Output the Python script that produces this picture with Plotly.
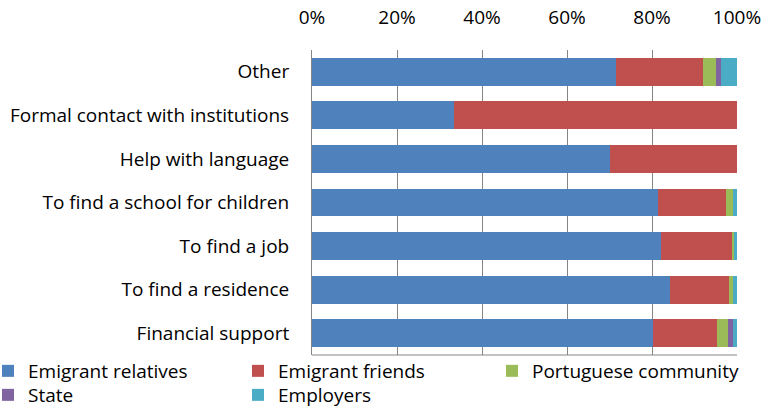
import plotly.graph_objects as go

categories = ["Other", "Formal contact with institutions", "Help with language",
              "To find a school for children", "To find a job", "To find a residence",
              "Financial support"]
series_names = ["Emigrant relatives", "Emigrant friends", "Portuguese community", "State", "Employers"]
emigrant_relatives = [71.5, 33.4, 70.1, 81.3, 82.2, 84.2, 80.3]
emigrant_friends = [20.4, 66.6, 29.9, 16.1, 16.6, 13.9, 14.9]
portuguese_community = [3.1, 0.0, 0.0, 1.7, 0.6, 1.0, 2.7]
state = [1.2, 0.0, 0.0, 0.0, 0.0, 0.0, 1.2]
employers = [3.8, 0.0, 0.0, 0.9, 0.6, 0.9, 0.9]
tick_vals = [0, 20, 40, 60, 80, 100]
tick_text = ["0%", "20%", "40%", "60%", "80%", "100%"]

series_values = [emigrant_relatives, emigrant_friends, portuguese_community, state, employers]
colors = ["#4F81BD", "#C0504D", "#9BBB59", "#8064A2", "#4BACC6"]
legend_ids = ["legend", "legend2", "legend3", "legend4", "legend5"]

FONT = "Open Sans"
FS = 19
W, H = 766, 407
L, R, T, B = 312, 29, 50, 52
pw, ph = W - L - R, H - T - B

fig = go.Figure()
for name, vals, col, lg in zip(series_names, series_values, colors, legend_ids):
    fig.add_trace(go.Bar(y=categories, x=vals, name=name, orientation="h",
                         marker=dict(color=col, line=dict(width=0)), legend=lg))

# legend positions (pixel -> paper)
leg_px = [(-12, 352), (238, 352), (492, 352), (-12, 376), (238, 376)]
leg_layout = {}
for lg, (px, py) in zip(legend_ids, leg_px):
    leg_layout[lg] = dict(x=(px - L) / pw, y=-(py - (T + ph)) / ph, xanchor="left", yanchor="top",
                          orientation="h", font=dict(family=FONT, size=FS, color="#000"),
                          bgcolor="rgba(0,0,0,0)", itemclick=False, itemdoubleclick=False,
                          visible=True)

fig.update_layout(
    width=W, height=H, barmode="stack", bargap=0.36, showlegend=True,
    margin=dict(l=L, r=R, t=T, b=B, autoexpand=False),
    plot_bgcolor="white", paper_bgcolor="white",
    font=dict(family=FONT, size=FS, color="#000"),
    xaxis=dict(side="top", range=[0, 100], tickvals=tick_vals, ticktext=tick_text,
               showgrid=True, gridcolor="#868686", gridwidth=1, zeroline=False,
               ticks="", ticklabelstandoff=21, tickfont=dict(family=FONT, size=FS)),
    yaxis=dict(autorange="reversed", showline=True, linecolor="#868686", linewidth=1,
               ticks="", ticklabelstandoff=18, tickfont=dict(family=FONT, size=FS)),
    shapes=[dict(type="line", xref="paper", yref="paper", x0=0, x1=1, y0=0, y1=0,
                 line=dict(color="#868686", width=1))],
    **leg_layout,
)

fig.write_html("out.html", config={"displayModeBar": False},
               post_script="document.body.style.margin='0';document.body.style.padding='0';")
